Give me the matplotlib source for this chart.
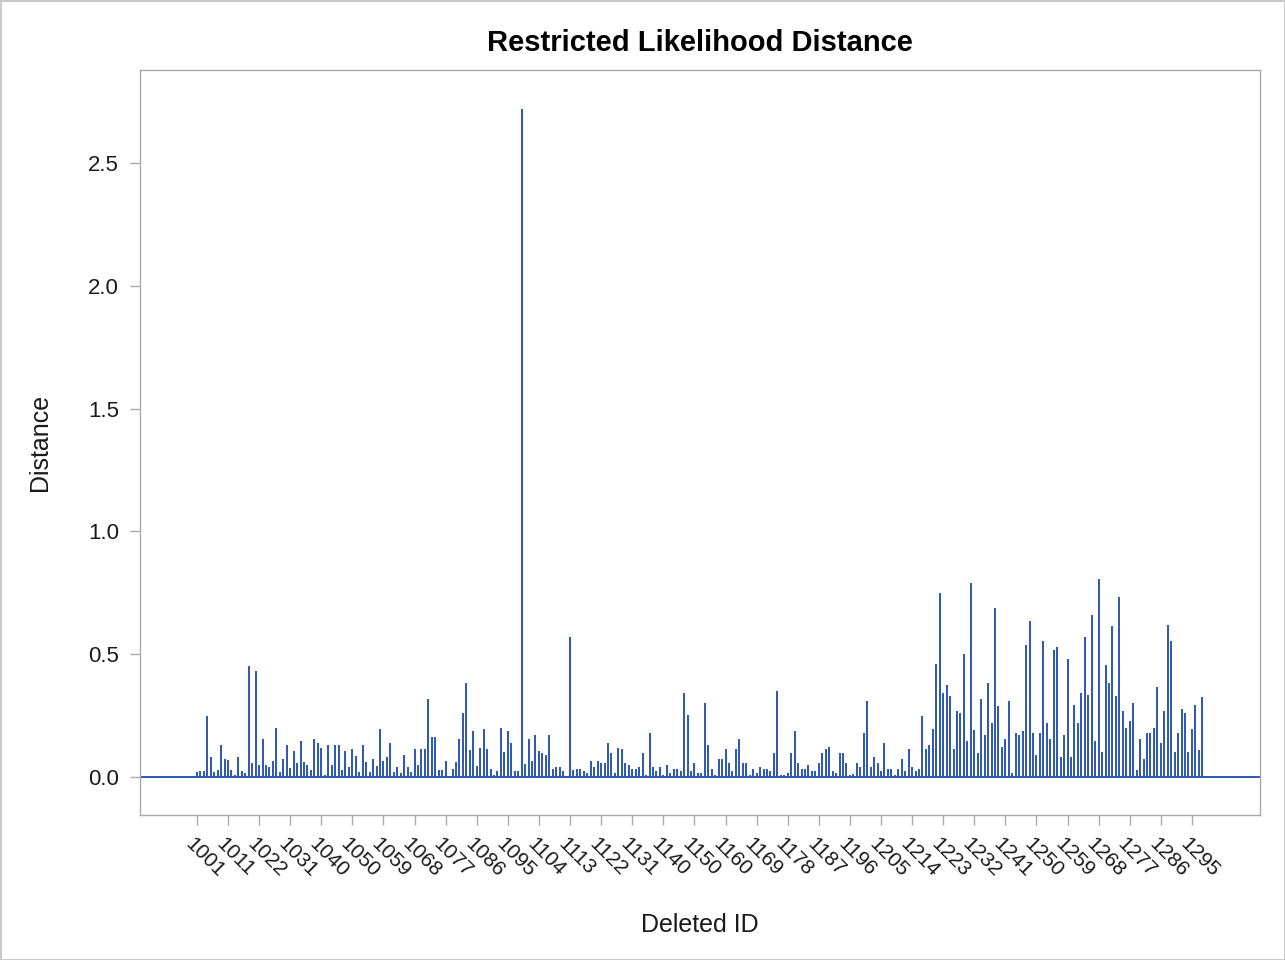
import matplotlib
matplotlib.use("Agg")
import matplotlib.pyplot as plt
import matplotlib.transforms as mtransforms
import numpy as np

# restricted likelihood distance for each deleted observation, in ID order
distance = [
    0.02, 0.025, 0.025, 0.25, 0.08, 0.02, 0.03, 0.13, 0.075, 0.07, 0.03, 0.01,
    0.08, 0.025, 0.015, 0.45, 0.055, 0.43, 0.05, 0.155, 0.05, 0.04, 0.065, 0.2,
    0.02, 0.073, 0.13, 0.035, 0.107, 0.057, 0.145, 0.06, 0.05, 0.03, 0.155, 0.14,
    0.12, 0.01, 0.13, 0.05, 0.13, 0.13, 0.03, 0.107, 0.04, 0.114, 0.087, 0.02,
    0.13, 0.06, 0.02,
    0.073, 0.046, 0.195, 0.066, 0.08, 0.14, 0.02, 0.04, 0.015, 0.09, 0.04, 0.02,
    0.114, 0.05, 0.114, 0.114, 0.318, 0.163, 0.163, 0.027, 0.03, 0.066, 0.005,
    0.033, 0.06, 0.155,
    0.26, 0.383, 0.11, 0.186, 0.046, 0.12, 0.195, 0.114, 0.033, 0.01, 0.026, 0.2,
    0.1, 0.186, 0.14, 0.026, 0.026, 2.72, 0.054, 0.155, 0.066, 0.172, 0.107,
    0.098, 0.09, 0.172,
    0.033, 0.04, 0.04, 0.023, 0.005, 0.57, 0.027, 0.033, 0.033, 0.023, 0.016,
    0.066, 0.04, 0.066, 0.057, 0.057, 0.138, 0.098, 0.016, 0.12, 0.114, 0.057,
    0.05, 0.033, 0.033, 0.04,
    0.098, 0.01, 0.18, 0.04, 0.023, 0.04, 0.01, 0.05, 0.016, 0.033, 0.033, 0.023,
    0.342, 0.254, 0.023, 0.057, 0.016, 0.016, 0.3, 0.13, 0.033, 0.01, 0.073,
    0.073, 0.114, 0.057,
    0.023, 0.114, 0.155, 0.057, 0.057, 0.01, 0.033, 0.016, 0.04, 0.033, 0.033,
    0.023, 0.098, 0.349, 0.01, 0.01, 0.016, 0.098, 0.186, 0.057, 0.033, 0.033,
    0.05, 0.023, 0.023, 0.057,
    0.098, 0.114, 0.122, 0.023, 0.016, 0.098, 0.098, 0.057, 0.01, 0.012, 0.057,
    0.04, 0.18, 0.308, 0.04, 0.08, 0.057, 0.023, 0.138, 0.033, 0.033, 0.01,
    0.033, 0.073, 0.023, 0.114,
    0.04, 0.023, 0.033, 0.247, 0.114, 0.13, 0.195, 0.461, 0.749, 0.342, 0.376,
    0.328, 0.114, 0.267, 0.26, 0.502, 0.145, 0.79, 0.193, 0.098, 0.318, 0.172,
    0.383, 0.22, 0.69, 0.288,
    0.122, 0.155, 0.308, 0.016, 0.18, 0.172, 0.186, 0.539, 0.636, 0.18, 0.09,
    0.18, 0.555, 0.22, 0.155, 0.516, 0.529, 0.08, 0.172, 0.48, 0.08, 0.294, 0.22,
    0.342, 0.57,
    0.335, 0.66, 0.145, 0.806, 0.1, 0.457, 0.383, 0.613, 0.328, 0.733, 0.267,
    0.2, 0.227, 0.3, 0.027, 0.155, 0.073, 0.18, 0.18, 0.2, 0.366, 0.138, 0.267,
    0.62, 0.555, 0.1, 0.18,
    0.277, 0.26, 0.1, 0.195, 0.294, 0.11, 0.325,
]

# every ninth deleted ID gets a label on the axis
tick_ids = [
    "1001", "1011", "1022", "1031", "1040", "1050", "1059", "1068", "1077",
    "1086", "1095", "1104", "1113", "1122", "1131", "1140", "1150", "1160",
    "1169", "1178", "1187", "1196", "1205", "1214", "1223", "1232", "1241",
    "1250", "1259", "1268", "1277", "1286", "1295",
]
TICK_STEP = 9

NEEDLE = "#2D55B2"
FRAME = "#A9A9A9"
TEXT = "#1A1A1A"

plt.rcParams["font.family"] = ["Liberation Sans", "DejaVu Sans"]

fig = plt.figure(figsize=(12.85, 9.6), dpi=100)
fig.patch.set_edgecolor("#C8C8C8")
fig.patch.set_linewidth(2)

ax = fig.add_axes([0.1089, 0.151, 0.8716, 0.776])

x = np.arange(len(distance))
ax.vlines(x, 0, distance, color=NEEDLE, linewidth=1.4)
ax.axhline(0, color=NEEDLE, linewidth=1.4)

ax.set_xlim(-16.5, 307.7)
ax.set_ylim(-0.155, 2.879)

ax.set_yticks([0.0, 0.5, 1.0, 1.5, 2.0, 2.5])
ax.set_yticklabels(["0.0", "0.5", "1.0", "1.5", "2.0", "2.5"])
tick_pos = np.arange(len(tick_ids)) * TICK_STEP
ax.set_xticks(tick_pos)
ax.set_xticklabels([])

# slanted ID labels, starting a little left of and below each tick mark
label_tf = ax.get_xaxis_transform() + mtransforms.ScaledTranslation(
    -9 / 100, -26 / 100, fig.dpi_scale_trans)
for pos, lab in zip(tick_pos, tick_ids):
    ax.text(pos, 0, lab, transform=label_tf, rotation=-45,
            rotation_mode="anchor", ha="left", va="center",
            fontsize=15, color=TEXT)

for s in ax.spines.values():
    s.set_color(FRAME)
    s.set_linewidth(1.0)
ax.tick_params(axis="both", colors=FRAME, labelcolor=TEXT,
               labelsize=16, length=7, width=1)
ax.tick_params(axis="y", pad=8)

ax.set_title("Restricted Likelihood Distance", fontsize=21, fontweight="bold",
             pad=14, color="#000000")
ax.set_ylabel("Distance", fontsize=18, labelpad=26, color=TEXT)
fig.text(0.5447, 1 - 925 / 960, "Deleted ID", fontsize=18, color=TEXT,
         ha="center", va="center")

fig.savefig("out.png", dpi=100)
